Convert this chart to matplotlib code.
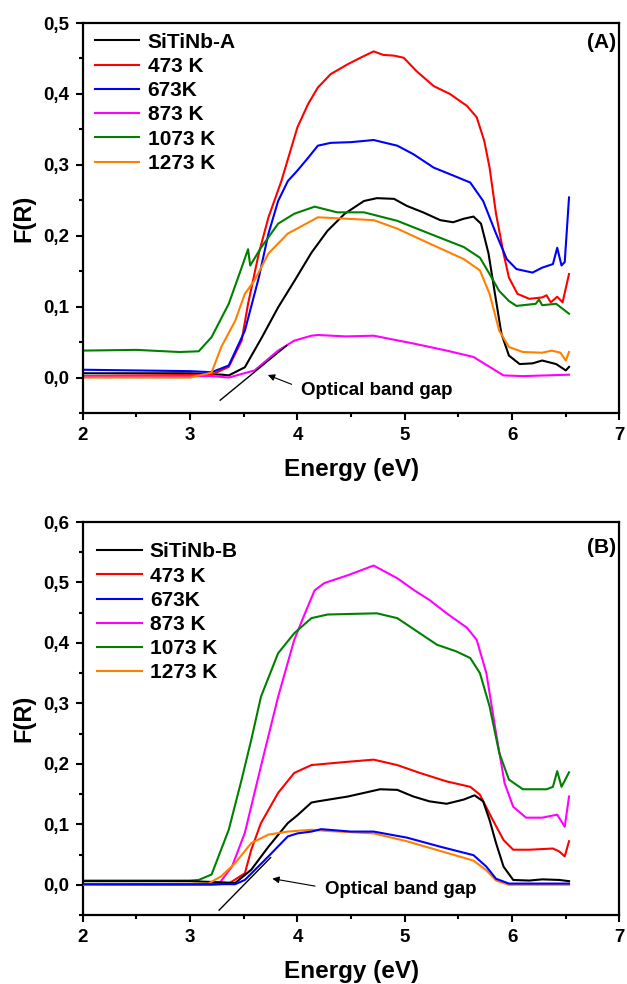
import matplotlib
matplotlib.use("Agg")
import matplotlib.pyplot as plt
from matplotlib.ticker import MultipleLocator, FuncFormatter

plt.rcParams['font.family'] = ['Liberation Sans', 'DejaVu Sans']
plt.rcParams['font.weight'] = 'bold'

labels_a = ["SiTiNb-A", "473 K", "673K", "873 K", "1073 K", "1273 K"]
labels_b = ["SiTiNb-B", "473 K", "673K", "873 K", "1073 K", "1273 K"]
colors = ["black", "#ff0000", "#0000ff", "#ff00ff", "#008000", "#ff8000"]

# ---- panel A ----
a_black_e = [2.0, 3.0, 3.3, 3.36, 3.51, 3.67, 3.82, 3.975, 4.13, 4.28, 4.44, 4.62, 4.74, 4.9, 5.02, 5.17,
             5.33, 5.45, 5.55, 5.64, 5.71, 5.78, 5.84, 5.90, 5.97, 6.07, 6.19, 6.28, 6.41, 6.5, 6.53]
a_black_f = [0.006, 0.006, 0.004, 0.003, 0.0145, 0.057, 0.099, 0.137, 0.176, 0.207, 0.231, 0.249, 0.253, 0.252,
             0.242, 0.233, 0.222, 0.219, 0.224, 0.227, 0.217, 0.175, 0.118, 0.062, 0.031, 0.019, 0.02, 0.024,
             0.019, 0.01, 0.015]

a_red_e = [2.0, 3.2, 3.36, 3.48, 3.54, 3.64, 3.73, 3.85, 4.0, 4.1, 4.19, 4.31, 4.47, 4.6, 4.71, 4.8, 4.9, 4.99,
           5.11, 5.27, 5.42, 5.58, 5.67, 5.74, 5.79, 5.85, 5.92, 5.97, 6.05, 6.16, 6.28, 6.32, 6.36, 6.42, 6.47, 6.53]
a_red_f = [0.002, 0.004, 0.015, 0.052, 0.104, 0.175, 0.226, 0.277, 0.353, 0.386, 0.409, 0.428, 0.442, 0.452,
           0.46, 0.455, 0.454, 0.451, 0.432, 0.411, 0.4, 0.383, 0.367, 0.334, 0.296, 0.231, 0.175, 0.141, 0.118,
           0.111, 0.113, 0.116, 0.106, 0.114, 0.106, 0.146]

a_blue_e = [2.0, 3.0, 3.2, 3.36, 3.51, 3.64, 3.73, 3.82, 3.91, 4.0, 4.1, 4.19, 4.31, 4.5, 4.71, 4.93, 5.08,
            5.27, 5.45, 5.61, 5.73, 5.85, 5.95, 6.04, 6.19, 6.28, 6.34, 6.38, 6.42, 6.46, 6.49, 6.53]
a_blue_f = [0.011, 0.009, 0.0075, 0.017, 0.066, 0.141, 0.203, 0.249, 0.277, 0.292, 0.31, 0.327, 0.331, 0.332,
            0.335, 0.327, 0.315, 0.296, 0.285, 0.275, 0.249, 0.203, 0.167, 0.153, 0.148, 0.155, 0.158, 0.16,
            0.183, 0.158, 0.163, 0.254]

a_mag_e = [2.0, 3.0, 3.2, 3.36, 3.6, 3.82, 3.97, 4.13, 4.19, 4.45, 4.71, 5.08, 5.39, 5.64, 5.79, 5.92, 6.1, 6.53]
a_mag_f = [0.002, 0.002, 0.002, 0.0, 0.01, 0.038, 0.052, 0.059, 0.06, 0.058, 0.059, 0.048, 0.038, 0.029,
           0.015, 0.003, 0.002, 0.004]

a_green_e = [2.0, 2.5, 2.9, 3.08, 3.2, 3.36, 3.48, 3.54, 3.56, 3.66, 3.82, 3.97, 4.16, 4.37, 4.62, 4.93, 5.23,
             5.55, 5.70, 5.79, 5.88, 5.97, 6.04, 6.22, 6.25, 6.28, 6.41, 6.53]
a_green_f = [0.038, 0.039, 0.036, 0.037, 0.057, 0.104, 0.155, 0.181, 0.158, 0.183, 0.217, 0.231, 0.241, 0.233,
             0.233, 0.221, 0.203, 0.184, 0.169, 0.146, 0.122, 0.108, 0.101, 0.104, 0.11, 0.102, 0.104, 0.09]

a_orange_e = [2.0, 3.0, 3.2, 3.29, 3.42, 3.51, 3.6, 3.73, 3.91, 4.13, 4.19, 4.45, 4.71, 4.93, 5.23, 5.55, 5.70,
              5.79, 5.88, 5.97, 6.1, 6.28, 6.37, 6.45, 6.5, 6.53]
a_orange_f = [0.0, 0.0, 0.007, 0.043, 0.08, 0.118, 0.137, 0.175, 0.203, 0.221, 0.226, 0.224, 0.222, 0.21, 0.189,
              0.167, 0.151, 0.118, 0.066, 0.043, 0.036, 0.035, 0.038, 0.035, 0.024, 0.036]

# ---- panel B ----
b_black_e = [2.0, 3.0, 3.3, 3.42, 3.57, 3.73, 3.91, 4.0, 4.13, 4.19, 4.47, 4.77, 4.93, 5.08, 5.23, 5.39, 5.55,
             5.65, 5.73, 5.79, 5.85, 5.92, 6.01, 6.16, 6.28, 6.44, 6.53]
b_black_f = [0.006, 0.006, 0.004, 0.003, 0.025, 0.063, 0.102, 0.115, 0.136, 0.138, 0.146, 0.158, 0.157, 0.146,
             0.138, 0.134, 0.141, 0.148, 0.138, 0.107, 0.069, 0.03, 0.008, 0.007, 0.009, 0.008, 0.006]

b_red_e = [2.0, 3.2, 3.36, 3.51, 3.57, 3.66, 3.82, 3.97, 4.13, 4.44, 4.71, 4.93, 5.14, 5.39, 5.61, 5.70, 5.82,
           5.92, 6.01, 6.16, 6.38, 6.44, 6.49, 6.53]
b_red_f = [0.0, 0.0, 0.002, 0.019, 0.058, 0.102, 0.152, 0.185, 0.198, 0.203, 0.207, 0.198, 0.185, 0.171, 0.162,
           0.149, 0.107, 0.074, 0.058, 0.058, 0.06, 0.055, 0.047, 0.072]

b_blue_e = [2.0, 3.3, 3.42, 3.51, 3.73, 3.91, 4.0, 4.13, 4.22, 4.5, 4.71, 5.02, 5.33, 5.64, 5.76, 5.85, 5.97, 6.53]
b_blue_f = [0.001, 0.001, 0.001, 0.008, 0.047, 0.08, 0.085, 0.088, 0.092, 0.088, 0.088, 0.078, 0.063, 0.049,
            0.03, 0.01, 0.002, 0.002]

b_mag_e = [2.0, 3.2, 3.27, 3.39, 3.51, 3.66, 3.82, 3.97, 4.07, 4.16, 4.25, 4.47, 4.71, 4.93, 5.08, 5.23, 5.39,
           5.58, 5.67, 5.76, 5.85, 5.93, 6.01, 6.13, 6.28, 6.42, 6.49, 6.53]
b_mag_f = [0.0, 0.0, 0.002, 0.03, 0.086, 0.196, 0.311, 0.405, 0.449, 0.487, 0.499, 0.512, 0.528, 0.507, 0.488,
           0.471, 0.449, 0.425, 0.405, 0.35, 0.251, 0.168, 0.129, 0.111, 0.111, 0.116, 0.096, 0.146]

b_green_e = [2.0, 3.0, 3.08, 3.2, 3.36, 3.48, 3.57, 3.66, 3.82, 3.97, 4.13, 4.28, 4.5, 4.74, 4.93, 5.14, 5.3,
             5.48, 5.61, 5.7, 5.79, 5.88, 5.97, 6.1, 6.32, 6.38, 6.42, 6.46, 6.53]
b_green_f = [0.007, 0.007, 0.008, 0.017, 0.091, 0.174, 0.24, 0.311, 0.383, 0.416, 0.441, 0.447, 0.448, 0.449,
             0.441, 0.416, 0.397, 0.386, 0.375, 0.35, 0.295, 0.218, 0.174, 0.158, 0.158, 0.162, 0.188, 0.162, 0.186]

b_orange_e = [2.0, 3.17, 3.29, 3.42, 3.57, 3.73, 3.91, 4.13, 4.28, 4.71, 5.02, 5.33, 5.64, 5.76, 5.85, 5.97, 6.53]
b_orange_f = [0.0, 0.002, 0.014, 0.036, 0.069, 0.083, 0.088, 0.091, 0.089, 0.085, 0.072, 0.056, 0.04, 0.024,
              0.007, 0.0, 0.0]

# tangent lines for the optical band gap
tan_a_e = [3.28, 3.9]
tan_a_f = [-0.032, 0.045]
tan_b_e = [3.27, 3.75]
tan_b_f = [-0.042, 0.045]

series_a = [(a_black_e, a_black_f), (a_red_e, a_red_f), (a_blue_e, a_blue_f),
            (a_mag_e, a_mag_f), (a_green_e, a_green_f), (a_orange_e, a_orange_f)]
series_b = [(b_black_e, b_black_f), (b_red_e, b_red_f), (b_blue_e, b_blue_f),
            (b_mag_e, b_mag_f), (b_green_e, b_green_f), (b_orange_e, b_orange_f)]

comma = FuncFormatter(lambda v, p: f"{v:.1f}".replace('.', ','))


def setup_axes(ax, ytop):
    ax.set_xlim(2, 7)
    ax.set_ylim(-0.05, ytop)
    ax.xaxis.set_major_locator(MultipleLocator(1))
    ax.xaxis.set_minor_locator(MultipleLocator(0.5))
    ax.yaxis.set_major_locator(MultipleLocator(0.1))
    ax.yaxis.set_minor_locator(MultipleLocator(0.05))
    ax.yaxis.set_major_formatter(comma)
    ax.tick_params(which='both', direction='out', width=1.5, labelsize=13.5, top=False, right=False)
    ax.tick_params(which='major', length=5, pad=5)
    ax.tick_params(which='minor', length=3)
    for s in ax.spines.values():
        s.set_linewidth(1.6)
    for t in ax.get_xticklabels() + ax.get_yticklabels():
        t.set_fontweight('bold')
    ax.set_xlabel("Energy (eV)", fontsize=17.5, fontweight='bold', labelpad=10)
    ax.set_ylabel("F(R)", fontsize=17, fontweight='bold')
    ax.yaxis.set_label_coords(-0.088, 0.5)


fig = plt.figure(figsize=(6.27, 9.84), dpi=100)
ax1 = fig.add_axes([0.132, 0.5803, 0.856, 0.3963])
ax2 = fig.add_axes([0.132, 0.0701, 0.856, 0.3994])

leg_kw = dict(loc='upper left', frameon=False, prop={'weight': 'bold', 'size': 15},
              handlelength=2.15, handletextpad=0.4, labelspacing=0.25, borderpad=0, borderaxespad=0)

# panel A
for (e, f), c, lab in zip(series_a, colors, labels_a):
    ax1.plot(e, f, color=c, lw=1.5, label=lab)
ax1.plot(tan_a_e, tan_a_f, color='black', lw=1.0)
ax1.annotate("", xy=(3.70, 0.005), xytext=(3.97, -0.011),
             arrowprops=dict(arrowstyle='-|>', color='black', lw=0.8, mutation_scale=10))
ax1.text(4.03, -0.018, "Optical band gap", fontsize=13.5, fontweight='bold', va='center', ha='left')
setup_axes(ax1, 0.5)
ax1.text(0.993, 0.951, "(A)", transform=ax1.transAxes, fontsize=15, fontweight='bold', ha='right', va='center')
ax1.legend(bbox_to_anchor=(0.022, 0.975), **leg_kw)

# panel B
zs = [3, 2, 4, 2, 2, 3]
for (e, f), c, lab, z in zip(series_b, colors, labels_b, zs):
    ax2.plot(e, f, color=c, lw=1.5, label=lab, zorder=z)
ax2.plot(tan_b_e, tan_b_f, color='black', lw=1.0)
ax2.annotate("", xy=(3.74, 0.011), xytext=(4.19, -0.003),
             arrowprops=dict(arrowstyle='-|>', color='black', lw=0.8, mutation_scale=10))
ax2.text(4.26, -0.008, "Optical band gap", fontsize=13.5, fontweight='bold', va='center', ha='left')
setup_axes(ax2, 0.6)
ax2.text(0.993, 0.934, "(B)", transform=ax2.transAxes, fontsize=15, fontweight='bold', ha='right', va='center')
ax2.legend(bbox_to_anchor=(0.026, 0.948), **leg_kw)

fig.savefig("out.png", dpi=100)
